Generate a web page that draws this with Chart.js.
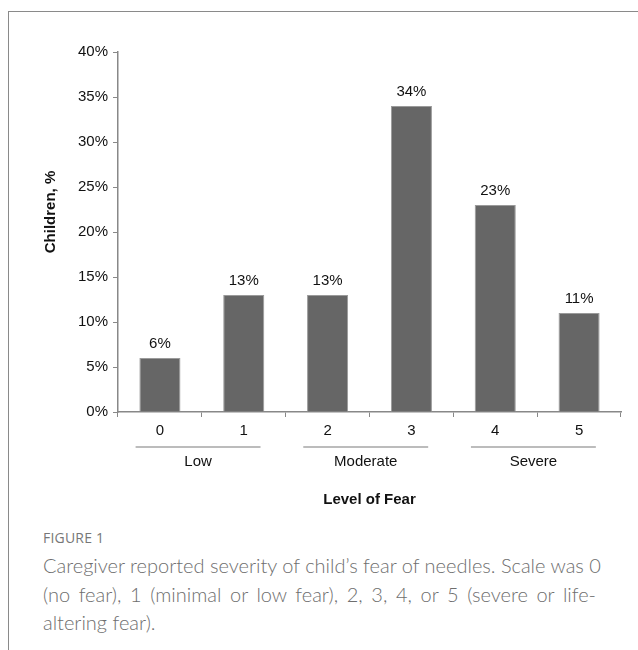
<!DOCTYPE html>
<html>
<head>
<meta charset="utf-8">
<script src="https://cdn.jsdelivr.net/npm/chart.js@4.4.1/dist/chart.umd.min.js"></script>
<style>
  html, body { margin: 0; padding: 0; background: #fff; }
  #wrap { position: relative; width: 638px; height: 650px; overflow: hidden; }
  #frame { position: absolute; left: 8px; top: 11px; right: -2px; bottom: -2px;
           border-left: 1.5px solid #8a8a8a; border-top: 1.5px solid #8a8a8a; }
  #chartBox { position: absolute; left: 0; top: 0; width: 638px; height: 520px; }
  #figLabel { position: absolute; left: 43px; top: 528px; font-family: "Open Sans", sans-serif;
              font-size: 14px; color: #777; letter-spacing: 0.2px; }
  #caption { position: absolute; left: 43px; top: 551px; width: 553px;
             font-family: Lato, "Open Sans", sans-serif; font-size: 20px; line-height: 28.5px;
             color: #6e6e6e; font-weight: 300; }
  #caption div { text-align: justify; text-align-last: justify; white-space: nowrap; }
  #caption div.last { text-align-last: left; }
</style>
</head>
<body>
<div id="wrap">
  <div id="frame"></div>
  <div id="chartBox"><canvas id="c" width="638" height="520"></canvas></div>
  <div id="figLabel">FIGURE 1</div>
  <div id="caption">
    <div>Caregiver reported severity of child’s fear of needles. Scale was 0</div>
    <div>(no fear), 1 (minimal or low fear), 2, 3, 4, or 5 (severe or life-</div>
    <div class="last">altering fear).</div>
  </div>
</div>
<script>
// Fear levels and share of children (%) at each level
const levels = ['0', '1', '2', '3', '4', '5'];
const childrenPct = [6, 13, 13, 34, 23, 11];
const yTicks = [0, 5, 10, 15, 20, 25, 30, 35, 40];
// Severity groups spanning pairs of levels
const groupNames = ['Low', 'Moderate', 'Severe'];
const groupFirst = [0, 2, 4];
const groupLast = [1, 3, 5];

const FONT = '"Liberation Sans", Arial, sans-serif';

const valueLabels = {
  id: 'valueLabels',
  afterDatasetsDraw(chart) {
    const ctx = chart.ctx;
    const meta = chart.getDatasetMeta(0);
    ctx.save();
    ctx.font = '15px ' + FONT;
    ctx.fillStyle = '#111';
    ctx.textAlign = 'center';
    ctx.textBaseline = 'middle';
    meta.data.forEach((bar, i) => {
      ctx.fillText(childrenPct[i] + '%', bar.x, bar.y - 14);
    });
    ctx.restore();
  }
};

const extras = {
  id: 'extras',
  afterDraw(chart) {
    const ctx = chart.ctx;
    const x = chart.scales.x;
    const area = chart.chartArea;
    ctx.save();
    // group brackets and names
    const catW = x.getPixelForValue(1) - x.getPixelForValue(0);
    ctx.strokeStyle = '#a6a6a6';
    ctx.lineWidth = 1.5;
    ctx.font = '15px ' + FONT;
    ctx.fillStyle = '#111';
    ctx.textAlign = 'center';
    ctx.textBaseline = 'middle';
    groupNames.forEach((name, g) => {
      const x0 = x.getPixelForValue(groupFirst[g]) - catW * 0.29;
      const x1 = x.getPixelForValue(groupLast[g]) + catW * 0.2;
      ctx.beginPath();
      ctx.moveTo(x0, 447);
      ctx.lineTo(x1, 447);
      ctx.stroke();
      ctx.fillText(name, (x0 + x1) / 2, 462);
    });
    // axis titles
    ctx.font = 'bold 15px ' + FONT;
    ctx.fillText('Level of Fear', (area.left + area.right) / 2, 500);
    ctx.translate(51, 212);
    ctx.rotate(-Math.PI / 2);
    ctx.fillText('Children, %', 0, 0);
    ctx.restore();
  }
};

new Chart(document.getElementById('c'), {
  type: 'bar',
  data: {
    labels: levels,
    datasets: [{
      data: childrenPct,
      backgroundColor: '#666666',
      borderColor: '#9a9a9a',
      borderWidth: 1,
      barPercentage: 0.49,
      categoryPercentage: 1.0
    }]
  },
  options: {
    responsive: false,
    animation: false,
    devicePixelRatio: 1,
    layout: { padding: { left: 0, right: 17, top: 52, bottom: 0 } },
    plugins: { legend: { display: false }, tooltip: { enabled: false } },
    scales: {
      x: {
        offset: true,
        grid: {
          display: true,
          drawOnChartArea: false,
          offset: true,
          tickLength: 5,
          color: '#888'
        },
        border: { color: '#888', width: 1.5 },
        ticks: { color: '#111', font: { family: FONT, size: 15 }, padding: 5 },
        afterFit(s) { s.height = 108; }
      },
      y: {
        min: 0,
        max: 40,
        afterBuildTicks(s) { s.ticks = yTicks.map(v => ({ value: v })); },
        grid: { display: true, drawOnChartArea: false, tickLength: 5, color: '#888' },
        border: { color: '#888', width: 1.5 },
        ticks: {
          color: '#111',
          font: { family: FONT, size: 15 },
          padding: 5,
          callback: v => v + '%'
        },
        afterFit(s) { s.width = 118; }
      }
    }
  },
  plugins: [valueLabels, extras]
});
</script>
</body>
</html>
